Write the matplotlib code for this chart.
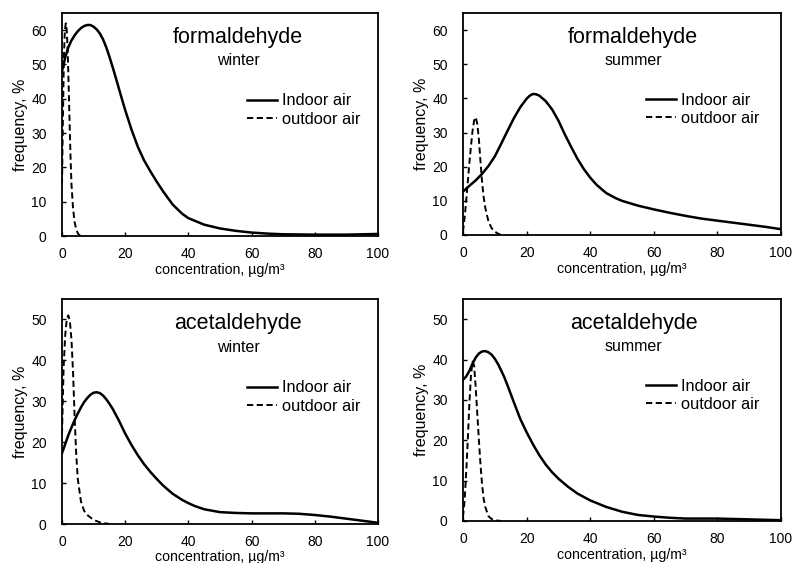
import matplotlib.pyplot as plt

plt.rcParams['font.family'] = ['Liberation Sans', 'DejaVu Sans']

# ====== DATA ======
# formaldehyde, winter
fw_in_x = [0, 1, 2, 3, 4, 5, 6, 7, 8, 9, 10, 11, 12, 13, 14, 15, 16, 17, 18, 19, 20,
           22, 24, 26, 28, 30, 32, 35, 38, 40, 45, 50, 55, 60, 65, 70, 80, 90, 100]
fw_in_y = [48, 52, 55, 57, 58.5, 59.7, 60.6, 61.2, 61.5, 61.5, 61, 60.2, 59, 57.3, 55, 52.3, 49.3, 46.2, 43, 39.8, 36.7,
           31, 26, 22, 18.8, 15.8, 13, 9.2, 6.5, 5.2, 3.3, 2.2, 1.5, 1.0, 0.7, 0.5, 0.4, 0.4, 0.6]
fw_out_x = [0, 0.3, 0.6, 0.9, 1.2, 1.5, 1.8, 2.1, 2.4, 2.7, 3.0, 3.5, 4.0, 4.5, 5.0, 5.5, 7]
fw_out_y = [15, 35, 52, 60, 62, 60, 54, 44, 33, 23, 15, 8, 4, 2, 0.8, 0.2, 0]

# formaldehyde, summer
fs_in_x = [0, 2, 4, 6, 8, 10, 12, 14, 16, 18, 20, 21, 22, 23, 24, 26, 28, 30, 32, 34, 36, 38,
           40, 42, 45, 48, 50, 55, 60, 65, 70, 75, 80, 85, 90, 95, 100]
fs_in_y = [12.7, 14.4, 16, 17.9, 20.2, 23, 26.7, 30.5, 34.2, 37.4, 39.9, 40.8, 41.3, 41.2, 40.8, 39.2, 36.8, 33.5, 29.5, 25.8, 22.3, 19.3,
           16.8, 14.7, 12.3, 10.8, 10, 8.6, 7.5, 6.5, 5.6, 4.8, 4.2, 3.6, 3.0, 2.4, 1.7]
fs_out_x = [0, 0.5, 1, 1.5, 2, 2.5, 3, 3.5, 4, 4.5, 5, 5.5, 6, 6.5, 7, 8, 9, 10, 11, 12]
fs_out_y = [1, 5, 10, 15.5, 21, 26, 30.5, 33.5, 34.5, 32.5, 28, 21.5, 15.5, 11, 8, 4, 2, 1, 0.4, 0]

# acetaldehyde, winter
aw_in_x = [0, 1, 2, 3, 4, 5, 6, 7, 8, 9, 10, 11, 12, 13, 14, 15, 16, 18, 20, 22, 24, 26, 28, 30,
           32, 35, 38, 40, 42, 45, 50, 55, 60, 65, 70, 75, 80, 85, 90, 95, 100]
aw_in_y = [17.3, 19.5, 21.7, 23.6, 25.4, 27, 28.5, 29.8, 30.8, 31.6, 32.1, 32.2, 32, 31.4, 30.5, 29.4, 28.2, 25.3, 22.1, 19.3, 16.8, 14.6, 12.7, 11,
           9.4, 7.4, 5.9, 5.1, 4.4, 3.6, 2.9, 2.7, 2.6, 2.6, 2.6, 2.5, 2.2, 1.8, 1.3, 0.8, 0.3]
aw_out_x = [0, 0.5, 1, 1.5, 2, 2.5, 3, 3.5, 4, 4.5, 5, 6, 7, 8, 10, 12, 15]
aw_out_y = [22, 38, 46, 50, 51, 49.5, 45, 37, 26, 17, 11, 5.5, 3.2, 2.2, 1.0, 0.4, 0]

# acetaldehyde, summer
as_in_x = [0, 1, 2, 3, 4, 5, 6, 7, 8, 9, 10, 11, 12, 13, 14, 15, 16, 18, 20, 22, 24, 26, 28, 30,
           33, 36, 40, 45, 50, 55, 60, 65, 70, 80, 90, 100]
as_in_y = [35, 35.8, 37.2, 39, 40.5, 41.5, 42, 42.1, 41.8, 41.2, 40.2, 38.9, 37.3, 35.6, 33.6, 31.5, 29.4, 25.3, 22, 19, 16.3, 14, 12.1, 10.5,
           8.5, 6.8, 5.1, 3.5, 2.3, 1.5, 1.1, 0.8, 0.6, 0.6, 0.4, 0.2]
as_out_x = [0, 0.5, 1, 1.5, 2, 2.5, 3, 3.5, 4, 4.5, 5, 5.5, 6, 6.5, 7, 8, 9, 10, 12]
as_out_y = [1, 5, 12, 20, 29, 36, 39.5, 38.5, 33, 26.5, 20, 14, 9, 5.5, 3.5, 1.2, 0.5, 0.2, 0]

compounds = ["formaldehyde", "formaldehyde", "acetaldehyde", "acetaldehyde"]
seasons = ["winter", "summer", "winter", "summer"]
y_tops = [65, 65, 55, 55]
y_ticks = [list(range(0, 61, 10)), list(range(0, 61, 10)), list(range(0, 51, 10)), list(range(0, 51, 10))]

series = [
    (fw_in_x, fw_in_y, fw_out_x, fw_out_y),
    (fs_in_x, fs_in_y, fs_out_x, fs_out_y),
    (aw_in_x, aw_in_y, aw_out_x, aw_out_y),
    (as_in_x, as_in_y, as_out_x, as_out_y),
]

# ====== PLOT ======
W, H = 806, 563
fig = plt.figure(figsize=(W / 100, H / 100), dpi=100)

# axes boxes in pixels: left, top, right, bottom
boxes = [(62, 13, 378, 236), (463, 13, 781, 235), (62, 299, 378, 524), (463, 299, 781, 521)]
title_x = [0.557, 0.535, 0.557, 0.537]
legend_x = [0.585, 0.575, 0.585, 0.575]

for i, (l, t, r, b) in enumerate(boxes):
    ax = fig.add_axes([l / W, 1 - b / H, (r - l) / W, (b - t) / H])
    xi, yi, xo, yo = series[i]
    ax.plot(xi, yi, color="black", lw=1.8, label="Indoor air")
    ax.plot(xo, yo, color="black", lw=1.4, ls=(0, (3.2, 1.8)), label="outdoor air")

    ax.set_xlim(0, 100)
    ax.set_ylim(0, y_tops[i])
    ax.set_xticks([0, 20, 40, 60, 80, 100])
    ax.set_yticks(y_ticks[i])
    ax.tick_params(direction="in", length=3, width=1, labelsize=10)
    ax.tick_params(axis="x", pad=8)
    ax.tick_params(axis="y", pad=11)
    for s in ax.spines.values():
        s.set_linewidth(1.3)

    ax.set_xlabel("concentration, µg/m³", fontsize=10.2, labelpad=1)
    ax.set_ylabel("frequency, %", fontsize=11.5, labelpad=2)

    ax.text(title_x[i], 0.89, compounds[i], transform=ax.transAxes, ha="center", va="center", fontsize=15.5)
    ax.text(title_x[i], 0.785, seasons[i], transform=ax.transAxes, ha="center", va="center", fontsize=11.5)

    ax.legend(loc="center left", bbox_to_anchor=(legend_x[i], 0.565), frameon=False, fontsize=11.8,
              handlelength=1.85, handletextpad=0.3, labelspacing=0.2, borderpad=0, borderaxespad=0)

fig.savefig("out.png", dpi=100)
